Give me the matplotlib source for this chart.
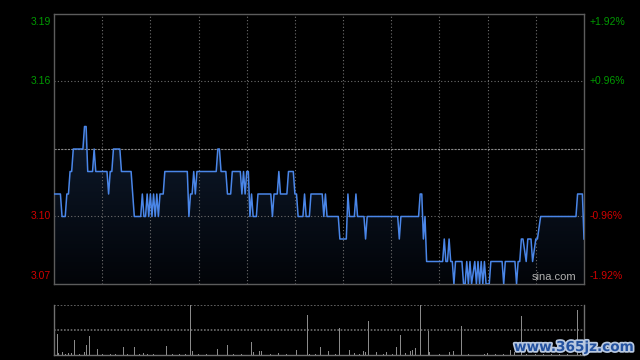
import numpy as np
import matplotlib
matplotlib.use("Agg")
import matplotlib.pyplot as plt
import matplotlib.patheffects as pe
from matplotlib.colors import LinearSegmentedColormap

# intraday minute index (0 = 9:30, 330 = 16:00, lunch removed) and price
price_t = [0, 4, 5, 7, 8, 9, 10, 11, 12, 18, 19, 20, 21, 24, 25, 26, 33, 34, 35, 36,
           37, 41, 42, 48, 50, 54, 55, 56, 57, 58, 59, 60, 61, 62, 63, 64, 65, 66, 68, 69,
           83, 84, 85, 86, 87, 88, 89, 101, 102, 103, 104, 107, 108, 110, 111, 116, 117,
           118, 119, 120, 121, 122, 123, 124, 126, 127, 135, 136, 137, 139, 140, 141, 145,
           146, 149, 150, 151, 152, 155, 156, 157, 159, 160,
           167, 168, 169, 170, 177, 178, 182, 183, 184, 187, 188, 189, 193, 194, 195, 214,
           215, 216, 227, 228, 229, 230, 231, 232, 242, 243, 244, 245, 246, 247,
           248, 249, 250, 254, 255, 256, 257, 258, 259, 260, 262, 263, 264, 265, 266, 267,
           268, 269, 271, 272, 279, 280, 281, 287, 288, 289, 290, 291, 292, 294, 295, 297,
           298, 300, 301, 303, 325, 326, 329, 330]
price_v = [3.11, 3.11, 3.10, 3.10, 3.11, 3.11, 3.12, 3.12, 3.13, 3.13, 3.14, 3.14, 3.12, 3.12, 3.13, 3.12, 3.12, 3.11, 3.12, 3.12,
           3.13, 3.13, 3.12, 3.12, 3.10, 3.10, 3.11, 3.10, 3.10, 3.11, 3.10, 3.11, 3.10, 3.11, 3.10, 3.11, 3.10, 3.11, 3.11, 3.12,
           3.12, 3.10, 3.11, 3.11, 3.12, 3.11, 3.12, 3.12, 3.13, 3.13, 3.12, 3.12, 3.11, 3.11, 3.12, 3.12, 3.11,
           3.12, 3.11, 3.12, 3.12, 3.10, 3.11, 3.10, 3.10, 3.11, 3.11, 3.10, 3.11, 3.11, 3.12, 3.11, 3.11,
           3.12, 3.12, 3.11, 3.11, 3.10, 3.10, 3.11, 3.10, 3.10, 3.11,
           3.11, 3.10, 3.11, 3.10, 3.10, 3.09, 3.09, 3.11, 3.10, 3.10, 3.11, 3.10, 3.10, 3.09, 3.10, 3.10,
           3.09, 3.10, 3.10, 3.11, 3.11, 3.09, 3.10, 3.08, 3.08, 3.09, 3.08, 3.08, 3.09, 3.08,
           3.08, 3.07, 3.08, 3.08, 3.07, 3.07, 3.08, 3.07, 3.08, 3.07, 3.08, 3.07, 3.08, 3.07, 3.08, 3.07,
           3.08, 3.07, 3.07, 3.08, 3.08, 3.07, 3.08, 3.08, 3.07, 3.08, 3.08, 3.09, 3.09, 3.08, 3.09, 3.09,
           3.08, 3.09, 3.09, 3.10, 3.10, 3.11, 3.11, 3.09]

# volume bars (panel top = 100)
vol_t = [0, 2, 3, 5, 7, 9, 11, 13, 16, 19, 20, 22, 27, 30, 35, 38, 43, 46, 50, 53, 56, 58,
         62, 66, 70, 74, 78, 82, 85, 86, 90, 95, 102, 108, 112, 117, 123, 124, 128, 129,
         135, 140, 145, 151, 158, 159, 163, 166, 171, 175, 178, 184, 187, 190, 193, 194,
         196, 198, 201, 205, 207, 211, 213, 216, 219, 222, 223, 225, 228, 231, 233, 234,
         240, 246, 249, 254, 258, 264, 268, 270, 275, 280, 284, 287, 291, 294, 300, 305,
         310, 315, 320, 326, 328]
vol_v = [19, 43, 4, 7, 3, 5, 5, 31, 3, 7, 21, 39, 13, 2, 3, 2, 17, 2, 17, 3, 5, 3,
         2, 3, 19, 2, 3, 2, 140, 9, 2, 2, 13, 21, 2, 3, 27, 7, 8, 9,
         2, 5, 3, 10, 80, 3, 2, 17, 8, 3, 55, 10, 5, 3, 9, 7,
         68, 7, 7, 3, 7, 3, 16, 41, 5, 9, 11, 14, 140, 57, 48, 7,
         3, 7, 8, 59, 3, 41, 3, 4, 3, 3, 10, 7, 78, 3, 3, 3,
         3, 3, 3, 90, 3]

prev_close = 3.13
left_ticks = [3.19, 3.16, 3.10, 3.07]
right_labels = ["+1.92%", "+0.96%", "-0.96%", "-1.92%"]

green = "#009a00"
red = "#d00000"
grid_c = "#6e6e6e"
edge_c = "#5c5c5c"

fig = plt.figure(figsize=(6.4, 3.6), dpi=100, facecolor="black")
ax = fig.add_axes([54 / 640, 1 - 284 / 360, 530 / 640, 270 / 360], facecolor="black")
axv = fig.add_axes([54 / 640, 1 - 355 / 360, 530 / 640, 50 / 360], facecolor="black")

# price area with dark gradient fill
fill = ax.fill_between(price_t, price_v, 3.07, color="none", lw=0)
cmap = LinearSegmentedColormap.from_list("f", ["#020408", "#0e1a2c"])
grad = np.linspace(0, 1, 256).reshape(-1, 1)
im = ax.imshow(grad, extent=[0, 330, 3.07, 3.14], origin="lower", aspect="auto",
               cmap=cmap, zorder=1)
im.set_clip_path(fill.get_paths()[0], transform=ax.transData)
ax.plot(price_t, price_v, color="#4a86e8", lw=1.1, zorder=3)

ax.set_xlim(0, 330)
ax.set_ylim(3.07, 3.19)
for k in range(1, 11):
    ax.axvline(30 * k, color=grid_c, lw=0.8, ls=(0, (1, 2)), zorder=2)
for y in [3.16, 3.10]:
    ax.axhline(y, color=grid_c, lw=0.8, ls=(0, (1, 2)), zorder=2)
ax.axhline(prev_close, color="#8a8a8a", lw=0.8, ls=(0, (2, 1)), zorder=2)
for s in ax.spines.values():
    s.set_color(edge_c)
    s.set_linewidth(1)
ax.set_xticks([])
ax.set_yticks([])

for i, (v, lab) in enumerate(zip(left_ticks, right_labels)):
    c = green if v > prev_close else red
    va = "top" if i == 0 else ("bottom" if i == len(left_ticks) - 1 else "center")
    off = -0.0012 if i == 0 else (0.0012 if i == len(left_ticks) - 1 else 0)
    ax.text(-0.006, v + off, f"{v:.2f}", transform=ax.get_yaxis_transform(),
            ha="right", va=va, color=c, fontsize=7.5, family="Liberation Sans")
    ax.text(1.01, v + off, lab, transform=ax.get_yaxis_transform(),
            ha="left", va=va, color=c, fontsize=7.5, family="Liberation Sans")

ax.text(0.985, 0.008, "sina.com", transform=ax.transAxes, ha="right", va="bottom",
        color="#b0b0b0", fontsize=8, family="Liberation Sans", zorder=5)

# volume panel
axv.bar(vol_t, vol_v, width=0.6, color="#8a8a8a", zorder=3)
axv.set_xlim(0, 330)
axv.set_ylim(0, 100)
axv.axhline(100, color=grid_c, lw=1.2, ls=(0, (1, 1)), zorder=2)
axv.axhline(50, color=grid_c, lw=1.2, ls=(0, (1, 1)), zorder=2)
axv.spines["top"].set_visible(False)
for side in ["left", "right", "bottom"]:
    axv.spines[side].set_color("#707070")
    axv.spines[side].set_linewidth(1)
axv.set_xticks([])
axv.set_yticks([])

fig.text(514 / 640, 1 - 354 / 360, "www.365jz.com", ha="left", va="bottom",
         color="#2452a0", fontsize=9.8, fontweight="bold", family="DejaVu Sans",
         path_effects=[pe.withStroke(linewidth=2.5, foreground="#b8c8e0")], zorder=10)

fig.savefig("out.png", dpi=100, facecolor="black")
